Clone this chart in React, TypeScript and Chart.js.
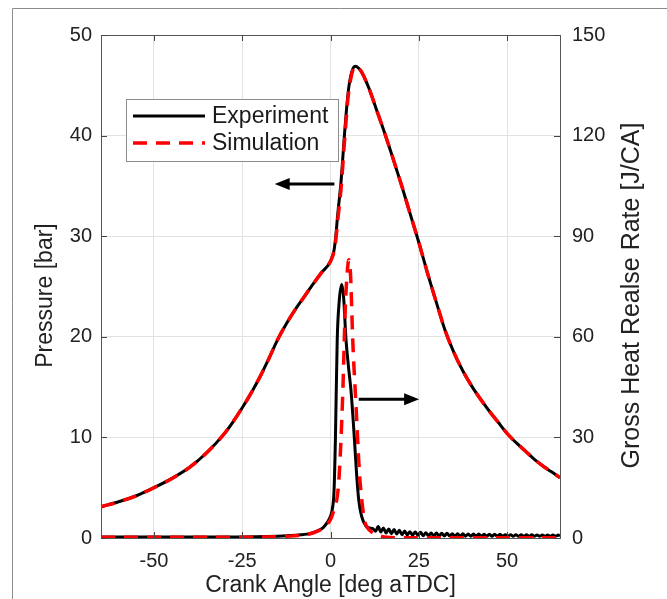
import React, { useEffect, useRef } from "react";
import { Chart, registerables } from "chart.js";

Chart.register(...registerables);

const FONT = '"Liberation Sans", Arial, sans-serif';

// Crank angle ticks and axis ticks
const xTicks = [-50, -25, 0, 25, 50];
const pTicks = [0, 10, 20, 30, 40, 50];
const hTicks = [0, 30, 60, 90, 120, 150];

// Cylinder pressure [bar]
const angleP = [-65, -60, -55, -50, -45, -40, -35, -30, -27.5, -25, -22.5, -20, -17.5, -15, -12.5, -10, -7.5, -5, -2.5, 0, 1, 1.5, 2, 3, 4, 5, 6, 7, 8, 9, 11, 13, 15, 17, 20, 22.5, 25, 27.5, 30, 32.5, 35, 37.5, 40, 42.5, 45, 47.5, 50, 52.5, 55, 57.5, 60, 62.5, 65];
const pressureExp = [3.1, 3.6, 4.2, 5.0, 5.9, 7.0, 8.5, 10.4, 11.6, 12.95, 14.4, 16.0, 17.8, 19.7, 21.3, 22.7, 23.95, 25.2, 26.4, 27.5, 28.6, 30.0, 32.0, 35.5, 40.3, 44.3, 46.3, 46.9, 46.7, 46.2, 44.6, 42.6, 40.6, 38.5, 35.2, 32.3, 29.4, 26.3, 23.4, 20.6, 18.4, 16.6, 15.1, 13.8, 12.6, 11.5, 10.4, 9.5, 8.7, 7.9, 7.2, 6.6, 6.0];
const pressureSim = [3.1, 3.6, 4.2, 5.0, 5.9, 7.0, 8.5, 10.4, 11.6, 12.95, 14.4, 16.0, 17.8, 19.7, 21.3, 22.7, 23.95, 25.2, 26.4, 27.5, 28.5, 29.6, 31.4, 34.8, 39.6, 43.9, 46.1, 46.9, 46.7, 46.2, 44.6, 42.6, 40.6, 38.5, 35.2, 32.3, 29.4, 26.3, 23.4, 20.6, 18.4, 16.6, 15.1, 13.8, 12.6, 11.5, 10.4, 9.5, 8.7, 7.9, 7.2, 6.6, 6.0];

// Gross heat release rate [J/CA] - experiment
const angleHExp = [-65, -30, -15, -10, -6, -4, -2, -1, 0, 0.5, 1, 1.4, 1.9, 2.5, 3.2, 3.7, 4.4, 5.1, 5.8, 6.3, 6.8, 7.4, 8, 8.8, 10, 11, 12,
  12.75, 13.5, 14.25, 15, 15.75, 16.5, 17.25, 18, 18.75, 19.5, 20.25, 21, 21.75, 22.5, 23.25, 24, 24.75, 25.5, 26.25, 27, 27.75, 28.5, 29.25, 30,
  30.75, 31.5, 32.25, 33, 33.75, 34.5, 35.25, 36, 36.75, 37.5, 38.25, 39, 39.75, 40.5, 41.25, 42, 42.75, 43.5, 44.25, 45, 45.75, 46.5, 47.25, 48,
  48.75, 49.5, 50.25, 51, 51.75, 52.5, 53.25, 54, 54.75, 55.5, 56.25, 57, 57.75, 58.5, 59.25, 60, 60.75, 61.5, 62.25, 63, 63.75, 64.5, 65];
const hrrExp = [0.3, 0.3, 0.5, 0.8, 1.3, 2.0, 3.2, 4.5, 6.5, 8.5, 14, 30, 59, 71, 75.6, 72, 59, 51, 44, 37, 29, 19, 11.3, 6.5, 3.6, 3.0, 2.8,
  2.0, 3.4, 1.8, 3.0, 1.5, 2.7, 1.3, 2.5, 1.2, 2.3, 1.0, 2.1, 0.9, 1.9, 0.8, 1.8, 0.8, 1.7, 0.7, 1.6, 0.7, 1.5, 0.6, 1.5,
  0.6, 1.4, 0.6, 1.4, 0.6, 1.3, 0.5, 1.3, 0.5, 1.3, 0.5, 1.2, 0.5, 1.2, 0.5, 1.2, 0.5, 1.1, 0.5, 1.1, 0.5, 1.1, 0.5, 1.1,
  0.5, 1.0, 0.5, 1.0, 0.5, 1.0, 0.5, 1.0, 0.5, 1.0, 0.5, 1.0, 0.5, 0.9, 0.5, 0.9, 0.5, 0.9, 0.5, 0.9, 0.5, 0.9, 0.6];

// Gross heat release rate [J/CA] - simulation
const angleHSim = [-65, -30, -15, -10, -6, -4, -2, -1, 0, 1, 2, 2.5, 3, 3.5, 4.2, 4.8, 5.2, 5.7, 6.3, 7.25, 8.2, 9, 9.6, 10.5, 12, 14, 16, 20, 65];
const hrrSim = [0.2, 0.2, 0.4, 0.7, 1.2, 1.9, 3.0, 4.0, 5.5, 8.5, 13, 19.4, 30, 44, 69, 80, 83, 78, 59, 39, 19.4, 10, 5.4, 3.0, 1.5, 0.6, 0.2, 0.1, 0.1];

const legendItems = ["Experiment", "Simulation"];
const leftTitle = "Pressure [bar]";
const rightTitle = "Gross Heat Realse Rate [J/CA]";

const pts = (xs: number[], ys: number[]) => xs.map((x, i) => ({ x, y: ys[i] }));

function drawArrow(ctx: CanvasRenderingContext2D, x0: number, x1: number, y: number) {
  const dir = Math.sign(x1 - x0);
  const head = 15;
  ctx.beginPath();
  ctx.moveTo(x0, y);
  ctx.lineTo(x1 - dir * head * 0.8, y);
  ctx.stroke();
  ctx.beginPath();
  ctx.moveTo(x1, y);
  ctx.lineTo(x1 - dir * head, y - 6);
  ctx.lineTo(x1 - dir * head, y + 6);
  ctx.closePath();
  ctx.fill();
}

function drawVerticalText(ctx: CanvasRenderingContext2D, text: string, cx: number, cy: number, size: number) {
  ctx.save();
  ctx.translate(cx, cy);
  ctx.rotate(-Math.PI / 2);
  ctx.fillStyle = "#222222";
  ctx.font = `${size}px ${FONT}`;
  ctx.textAlign = "center";
  ctx.textBaseline = "middle";
  ctx.fillText(text, 0, 0);
  ctx.restore();
}

const decor = {
  id: "decor",
  beforeDraw(chart: any) {
    const { ctx, width, height } = chart;
    ctx.save();
    ctx.fillStyle = "#ffffff";
    ctx.fillRect(0, 0, width, height);
    ctx.strokeStyle = "#8c8c8c";
    ctx.lineWidth = 1;
    ctx.beginPath();
    ctx.moveTo(12.5, height);
    ctx.lineTo(12.5, 8.5);
    ctx.lineTo(width, 8.5);
    ctx.stroke();
    ctx.restore();
  },
  afterDatasetsDraw(chart: any) {
    const { ctx, chartArea: a, scales } = chart;
    const { x, y, y1 } = scales;
    ctx.save();
    // axes box
    ctx.strokeStyle = "#555555";
    ctx.lineWidth = 1;
    ctx.strokeRect(Math.round(a.left) + 0.5, Math.round(a.top) + 0.5, Math.round(a.right - a.left), Math.round(a.bottom - a.top));
    // inward ticks
    ctx.strokeStyle = "#444444";
    ctx.beginPath();
    const tl = 6;
    xTicks.forEach((v) => {
      const px = Math.round(x.getPixelForValue(v)) + 0.5;
      ctx.moveTo(px, a.bottom); ctx.lineTo(px, a.bottom - tl);
      ctx.moveTo(px, a.top); ctx.lineTo(px, a.top + tl);
    });
    pTicks.forEach((v) => {
      const py = Math.round(y.getPixelForValue(v)) + 0.5;
      ctx.moveTo(a.left, py); ctx.lineTo(a.left + tl, py);
    });
    hTicks.forEach((v) => {
      const py = Math.round(y1.getPixelForValue(v)) + 0.5;
      ctx.moveTo(a.right, py); ctx.lineTo(a.right - tl, py);
    });
    ctx.stroke();

    // arrows
    ctx.strokeStyle = "#000000";
    ctx.fillStyle = "#000000";
    ctx.lineWidth = 3;
    drawArrow(ctx, x.getPixelForValue(1.1), x.getPixelForValue(-15.8), y.getPixelForValue(35.2));
    drawArrow(ctx, x.getPixelForValue(8.0), x.getPixelForValue(25.1), y.getPixelForValue(13.8));

    // legend
    const lx = a.left + 25;
    const ly = a.top + 64;
    const lw = 212;
    const lh = 62;
    ctx.fillStyle = "#ffffff";
    ctx.fillRect(lx, ly, lw, lh);
    ctx.strokeStyle = "#8c8c8c";
    ctx.lineWidth = 1;
    ctx.strokeRect(Math.round(lx) + 0.5, Math.round(ly) + 0.5, lw, lh);
    const rows = [ly + 17, ly + 44];
    ctx.lineWidth = 3;
    ctx.strokeStyle = "#000000";
    ctx.setLineDash([]);
    ctx.beginPath();
    ctx.moveTo(lx + 7, rows[0]); ctx.lineTo(lx + 79, rows[0]);
    ctx.stroke();
    ctx.strokeStyle = "#ff0000";
    ctx.lineWidth = 3.5;
    ctx.setLineDash([14, 9]);
    ctx.beginPath();
    ctx.moveTo(lx + 7, rows[1]); ctx.lineTo(lx + 79, rows[1]);
    ctx.stroke();
    ctx.setLineDash([]);
    ctx.fillStyle = "#1a1a1a";
    ctx.font = `23px ${FONT}`;
    ctx.textBaseline = "middle";
    ctx.textAlign = "left";
    ctx.fillText(legendItems[0], lx + 86, rows[0] + 1);
    ctx.fillText(legendItems[1], lx + 86, rows[1] + 1);
    ctx.restore();

    // axis titles (both read bottom-to-top)
    const cy = (a.top + a.bottom) / 2 + 9;
    drawVerticalText(ctx, leftTitle, a.left - 55, cy, 23);
    drawVerticalText(ctx, rightTitle, a.right + 72, cy, 25);
  },
};

export default function App() {
  const ref = useRef<HTMLCanvasElement>(null);
  useEffect(() => {
    const common = { pointRadius: 0, cubicInterpolationMode: "monotone" as const, fill: false };
    const chart = new Chart(ref.current!, {
      type: "line",
      data: {
        datasets: [
          { label: "Simulation", data: pts(angleP, pressureSim), yAxisID: "y", borderColor: "#ff0000", borderWidth: 3.5, borderDash: [14, 9], ...common },
          { label: "Simulation HRR", data: pts(angleHSim, hrrSim), yAxisID: "y1", borderColor: "#ff0000", borderWidth: 3.5, borderDash: [14, 9], ...common },
          { label: "Experiment", data: pts(angleP, pressureExp), yAxisID: "y", borderColor: "#000000", borderWidth: 3, ...common },
          { label: "Experiment HRR", data: pts(angleHExp, hrrExp), yAxisID: "y1", borderColor: "#000000", borderWidth: 3, ...common },
        ],
      },
      options: {
        responsive: false,
        animation: false,
        devicePixelRatio: 1,
        layout: { padding: { top: 35, left: 0, right: 0, bottom: 0 } },
        plugins: { legend: { display: false }, tooltip: { enabled: false } },
        scales: {
          x: {
            type: "linear",
            min: -65,
            max: 65,
            afterBuildTicks: (s: any) => { s.ticks = xTicks.map((v) => ({ value: v })); },
            afterFit: (s: any) => { s.height = 61; },
            grid: { color: "#e2e2e2", drawTicks: false },
            border: { display: false },
            ticks: { padding: 11, color: "#222222", font: { size: 20, family: FONT }, callback: (v: any) => String(v) },
            title: { display: true, text: "Crank Angle [deg aTDC]", color: "#222222", font: { size: 23, family: FONT }, padding: { top: 0, bottom: 0 } },
          },
          y: {
            type: "linear",
            position: "left",
            min: 0,
            max: 50,
            afterBuildTicks: (s: any) => { s.ticks = pTicks.map((v) => ({ value: v })); },
            afterFit: (s: any) => { s.width = 101; },
            grid: { color: "#e2e2e2", drawTicks: false },
            border: { display: false },
            ticks: { padding: 9, color: "#222222", font: { size: 20, family: FONT }, callback: (v: any) => String(v) },
            title: { display: false },
          },
          y1: {
            type: "linear",
            position: "right",
            min: 0,
            max: 150,
            afterBuildTicks: (s: any) => { s.ticks = hTicks.map((v) => ({ value: v })); },
            afterFit: (s: any) => { s.width = 107; },
            grid: { display: false, drawTicks: false },
            border: { display: false },
            ticks: { padding: 12, color: "#222222", font: { size: 20, family: FONT }, callback: (v: any) => String(v) },
            title: { display: false },
          },
        },
      },
      plugins: [decor],
    });
    return () => chart.destroy();
  }, []);
  return (
    <div style={{ position: "fixed", left: 0, top: 0, width: 667, height: 599, overflow: "hidden", background: "#fff" }}>
      <canvas ref={ref} width={667} height={599} style={{ display: "block", width: 667, height: 599 }} />
    </div>
  );
}
